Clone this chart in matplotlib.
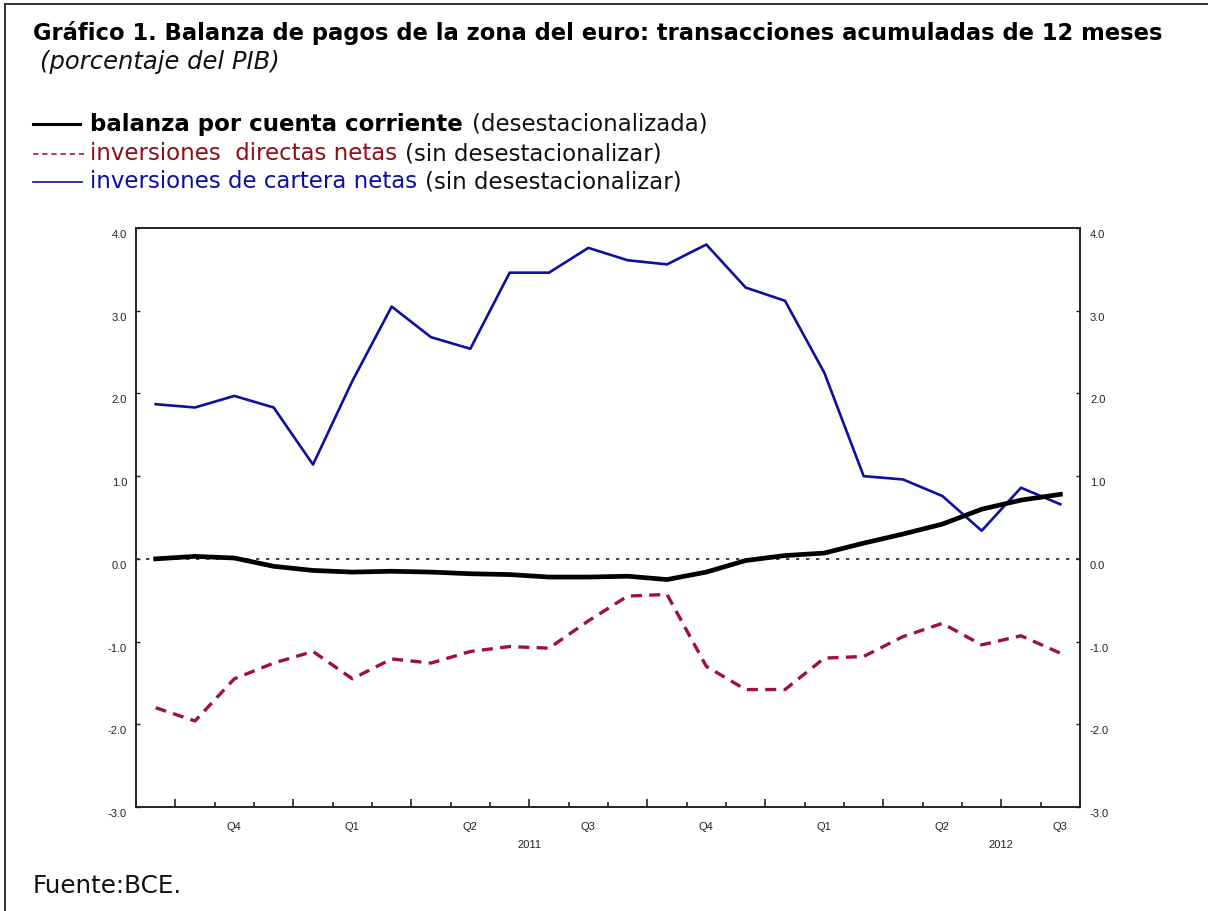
import matplotlib
matplotlib.use("Agg")
import matplotlib.pyplot as plt
from matplotlib.lines import Line2D
from matplotlib.ticker import FixedLocator, NullFormatter

# ---------------- data (monthly, Sep 2010 .. Aug 2012) ----------------
months = ['2010-09', '2010-10', '2010-11', '2010-12',
          '2011-01', '2011-02', '2011-03', '2011-04', '2011-05', '2011-06',
          '2011-07', '2011-08', '2011-09', '2011-10', '2011-11', '2011-12',
          '2012-01', '2012-02', '2012-03', '2012-04', '2012-05', '2012-06',
          '2012-07', '2012-08']

current_account = [0.00, 0.03, 0.01, -0.09, -0.14, -0.16, -0.15, -0.16, -0.18,
                   -0.19, -0.22, -0.22, -0.21, -0.25, -0.16, -0.02, 0.04, 0.07,
                   0.19, 0.30, 0.42, 0.60, 0.71, 0.78]

direct_investment = [-1.80, -1.96, -1.45, -1.26, -1.12, -1.45, -1.21, -1.26,
                     -1.12, -1.06, -1.08, -0.75, -0.45, -0.43, -1.30, -1.58,
                     -1.58, -1.20, -1.18, -0.94, -0.78, -1.04, -0.93, -1.14]

portfolio_investment = [1.87, 1.83, 1.97, 1.83, 1.14, 2.15, 3.05, 2.68, 2.54,
                        3.46, 3.46, 3.76, 3.61, 3.56, 3.80, 3.28, 3.12, 2.25,
                        1.00, 0.96, 0.76, 0.34, 0.86, 0.66]

quarter_labels = ['Q4', 'Q1', 'Q2', 'Q3', 'Q4', 'Q1', 'Q2', 'Q3']
year_labels = ['2011', '2012']
y_ticks = [-3.0, -2.0, -1.0, 0.0, 1.0, 2.0, 3.0, 4.0]

# ---------------- layout ----------------
W, H = 1208, 912
fig = plt.figure(figsize=(W / 100, H / 100), dpi=100)
fig.patch.set_facecolor('white')

def fx(x):
    return x / W

def fy(y):
    return 1 - y / H

ax_l, ax_r, ax_t, ax_b = 136, 1080, 229, 808
ax = fig.add_axes([fx(ax_l), fy(ax_b), (ax_r - ax_l) / W, (ax_b - ax_t) / H])

x = list(range(len(months)))
BLACK = '#000000'
RED = '#A0103C'
BLUE = '#0E0EA0'
TICKC = '#222222'
TFONT = 'Liberation Sans'

ax.axhline(0, color=TICKC, lw=1.2, ls=(0, (2, 4)), zorder=1)
ax.plot(x, portfolio_investment, color=BLUE, lw=1.9, zorder=3)
ax.plot(x, direct_investment, color=RED, lw=2.4, ls=(0, (3.3, 2.2)), zorder=3)
ax.plot(x, current_account, color=BLACK, lw=3.4, zorder=4)

ax.set_xlim(-0.5, len(months) - 0.5)
ax.set_ylim(-3.0, 4.0)

# x ticks: quarter boundaries (major) and month boundaries (minor)
n = len(months)
month_bounds = [i + 0.5 for i in range(n - 1)]
quarter_bounds = [b for b in month_bounds if months[int(b + 0.5)][5:] in ('01', '04', '07', '10')]
ax.xaxis.set_major_locator(FixedLocator(quarter_bounds))
ax.xaxis.set_minor_locator(FixedLocator([b for b in month_bounds if b not in quarter_bounds]))
ax.xaxis.set_major_formatter(NullFormatter())
ax.tick_params(axis='x', which='major', direction='in', length=6, width=1.2, color=TICKC)
ax.tick_params(axis='x', which='minor', direction='in', length=3.5, width=1.2, color=TICKC)

# quarter labels centred on quarters
q_centers = [i + 1 for i, m in enumerate(months) if m[5:] in ('10', '01', '04', '07')]
for lab, c in zip(quarter_labels, q_centers):
    ax.annotate(lab, xy=(c, 0), xycoords=('data', 'axes fraction'),
                xytext=(0, -19), textcoords='offset pixels', ha='center', va='center',
                fontsize=8, family=TFONT, color=TICKC)
year_centers = []
for yl in year_labels:
    idx = [i for i, m in enumerate(months) if m.startswith(yl)]
    year_centers.append(idx[0] - 0.5 + 6)
for lab, c in zip(year_labels, year_centers):
    ax.annotate(lab, xy=(c, 0), xycoords=('data', 'axes fraction'),
                xytext=(0, -37), textcoords='offset pixels', ha='center', va='center',
                fontsize=8, family=TFONT, color=TICKC)

# y ticks both sides, labels drawn manually (slightly below tick)
ax.set_yticks(y_ticks)
ax.set_yticklabels([])
ax.tick_params(axis='y', which='both', direction='in', length=3, width=1.0,
               left=True, right=True, color=TICKC)
for v in y_ticks:
    ax.annotate(f'{v:.1f}', xy=(0, v), xycoords=('axes fraction', 'data'),
                xytext=(-9, -6), textcoords='offset pixels', ha='right', va='center',
                fontsize=8, family=TFONT, color=TICKC)
    ax.annotate(f'{v:.1f}', xy=(1, v), xycoords=('axes fraction', 'data'),
                xytext=(10, -6), textcoords='offset pixels', ha='left', va='center',
                fontsize=8, family=TFONT, color=TICKC)

for s in ax.spines.values():
    s.set_linewidth(1.4)
    s.set_color(TICKC)

# ---------------- texts ----------------
renderer = fig.canvas.get_renderer()
FONT = 'DejaVu Sans'

def fit_text(x0, yc, s, target_w, fs=14, **kw):
    t = fig.text(fx(x0), fy(yc), s, fontsize=fs, ha='left', va='center', **kw)
    w = t.get_window_extent(renderer).width
    t.set_fontsize(fs * target_w / w)
    return t

def chain(x0, yc, parts, fs, gap=6):
    """parts: list of (text, color, weight); placed one after another."""
    xc = x0
    for s, col, wt in parts:
        t = fig.text(fx(xc), fy(yc), s, fontsize=fs, ha='left', va='center',
                     family=FONT, color=col, fontweight=wt)
        xc += t.get_window_extent(renderer).width + gap

fit_text(33, 33, 'Gráfico 1. Balanza de pagos de la zona del euro: transacciones acumuladas de 12 meses',
         1135, family=FONT, fontweight='bold', color='black')
fit_text(40, 62, '(porcentaje del PIB)', 240, family=FONT, style='italic', color='#111111')

LFS = 16.5
fig.add_artist(Line2D([fx(33), fx(80)], [fy(125), fy(125)], color=BLACK, lw=2.2))
chain(90, 124, [('balanza por cuenta corriente', 'black', 'bold'),
                ('(desestacionalizada)', '#111111', 'normal')], LFS, gap=9)

fig.add_artist(Line2D([fx(33), fx(85)], [fy(155), fy(155)], color='#8E0F1A', lw=1.1,
                      ls=(0, (3.5, 2.5))))
chain(90, 154, [('inversiones  directas netas', '#8E0F1A', 'normal'),
                ('(sin desestacionalizar)', '#111111', 'normal')], LFS, gap=8)

fig.add_artist(Line2D([fx(33), fx(82)], [fy(183), fy(183)], color=BLUE, lw=1.2))
chain(90, 182, [('inversiones de cartera netas', BLUE, 'normal'),
                ('(sin desestacionalizar)', '#111111', 'normal')], LFS, gap=8)

fit_text(33, 886, 'Fuente:BCE.', 149, family=FONT, color='#111111')

# frame (left and top edges)
fig.add_artist(Line2D([fx(5), fx(5)], [fy(5), fy(912)], color=TICKC, lw=1.3))
fig.add_artist(Line2D([fx(5), fx(1208)], [fy(5), fy(5)], color=TICKC, lw=1.3))

fig.savefig('out.png', dpi=100, facecolor='white')
